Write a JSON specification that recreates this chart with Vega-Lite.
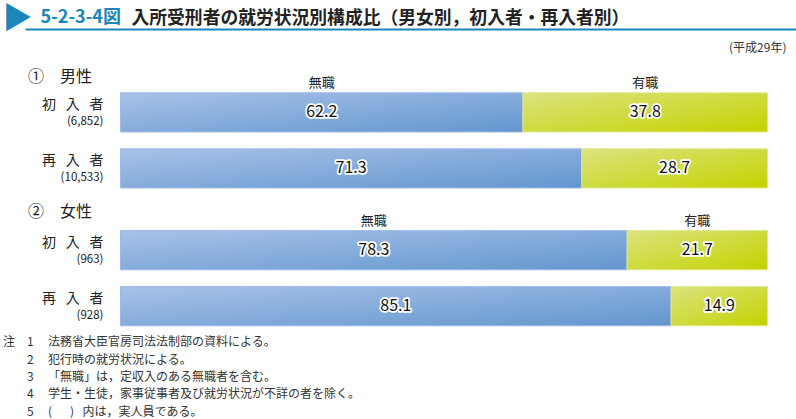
{
  "$schema": "https://vega.github.io/schema/vega-lite/v6.json",
  "padding": {"left": 2, "top": 3, "right": 0, "bottom": 0},
  "bounds": "flush",
  "spacing": 41.8,
  "config": {"font": "Noto Sans CJK JP", "view": {"stroke": null}, "background": "white"},
  "data": {"values": [
    {"sex": "男性", "type": "初入者", "n": "6,852", "status": "無職", "pct": 62.2},
    {"sex": "男性", "type": "初入者", "n": "6,852", "status": "有職", "pct": 37.8},
    {"sex": "男性", "type": "再入者", "n": "10,533", "status": "無職", "pct": 71.3},
    {"sex": "男性", "type": "再入者", "n": "10,533", "status": "有職", "pct": 28.7},
    {"sex": "女性", "type": "初入者", "n": "963", "status": "無職", "pct": 78.3},
    {"sex": "女性", "type": "初入者", "n": "963", "status": "有職", "pct": 21.7},
    {"sex": "女性", "type": "再入者", "n": "928", "status": "無職", "pct": 85.1},
    {"sex": "女性", "type": "再入者", "n": "928", "status": "有職", "pct": 14.9}
  ]},
  "title": {
    "text": ["注　1　\u2009法務省大臣官房司法法制部の資料による。", "\u200B　　2　\u2009犯行時の就労状況による。", "\u200B　　3　\u2009「無職」は，定収入のある無職者を含む。", "\u200B　　4　\u2009学生・生徒，家事従事者及び就労状況が不詳の者を除く。", "\u200B　　5　\u2009(　\u2002)\u2002\u2009内は，実人員である。"],
    "orient": "bottom", "anchor": "start", "frame": "group", "dx": -22, "offset": 11,
    "fontSize": 12, "fontWeight": "normal", "lineHeight": 17.4, "color": "#333"
  },
  "vconcat": [
    {
      "width": 771, "height": 21.5,
      "layer": [
        {
          "mark": {"type": "point", "opacity": 0},
          "encoding": {
            "x": {"field": "pct", "type": "quantitative", "scale": {"domain": [0, 100]},
              "axis": {"orient": "top", "grid": false, "domainColor": "#1a86b9", "domainWidth": 2, "ticks": false,
                "values": [100], "labelExpr": "'(平成29年)'", "labelAlign": "right", "labelOffset": -10, "labelPadding": -25,
                "labelBaseline": "bottom", "labelFontSize": 12, "labelColor": "#333", "labelBound": false, "labelFlush": false,
                "title": "入所受刑者の就労状況別構成比（男女別，初入者・再入者別）", "titleX": 106, "titleY": -6,
                "titleAlign": "left", "titleBaseline": "alphabetic", "titleFontSize": 17.8, "titleFontWeight": "bold", "titleColor": "#222"}},
            "y": {"field": "type", "type": "nominal",
              "axis": {"orient": "left", "domain": false, "ticks": false, "labels": false, "grid": false, "title": "▶", "titleAngle": 0,
                "titleX": -23, "titleY": -26, "titleAlign": "left", "titleBaseline": "top", "titleFontSize": 30,
                "titleColor": "#1a86b9", "titleFontWeight": "normal"}}
          }
        },
        {
          "mark": {"type": "point", "opacity": 0},
          "encoding": {
            "x": {"field": "pct", "type": "quantitative"},
            "y": {"field": "n", "type": "nominal",
              "axis": {"orient": "left", "domain": false, "ticks": false, "labels": false, "grid": false, "title": "5-2-3-4図", "titleAngle": 0,
                "titleX": 15, "titleY": -7, "titleAlign": "left", "titleBaseline": "alphabetic", "titleFontSize": 18,
                "titleColor": "#1a86b9", "titleFontWeight": "bold"}}
          }
        }
      ],
      "resolve": {"scale": {"y": "independent"}}
    },
    {
      "width": 771, "height": 95.2,
      "title": {"text": "①　男性", "anchor": "start", "frame": "group", "dx": 3, "offset": -8, "fontSize": 16, "fontWeight": "normal", "color": "#222"},
      "transform": [
        {"filter": "datum.sex === '男性'"},
        {"stack": "pct", "groupby": ["type"], "sort": [{"field": "status", "order": "descending"}], "as": ["x0", "x1"], "offset": "zero"},
        {"calculate": "(datum.x0 + datum.x1) / 2", "as": "xm"}
      ],
      "layer": [
        {"layer": [
          {"transform": [{"filter": "datum.status === '無職'"}],
           "mark": {"type": "bar", "fill": {"gradient": "linear", "x1": 0, "y1": 0, "x2": 1, "y2": 1, "stops": [{"offset": 0, "color": "#a8c2e9"}, {"offset": 1, "color": "#6396ce"}]}, "stroke": "#9dbbe6", "strokeWidth": 1},
           "encoding": {
             "x": {"field": "x0", "type": "quantitative", "scale": {"domain": [0, 100], "range": [95.5, 742.5], "nice": false}, "axis": null},
             "x2": {"field": "x1"},
             "y": {"field": "type", "type": "nominal", "sort": "descending", "scale": {"type": "band", "paddingInner": 0.3, "paddingOuter": 0},
               "axis": {"orient": "left", "offset": -83, "domain": false, "ticks": false, "labelPadding": 5, "labelExpr": "join(split(datum.label, ''), '\u2002\u2009')", "labelFontSize": 14, "labelColor": "#222", "labelBaseline": "middle", "labelOffset": -7, "title": null}}
           }},
          {"transform": [{"filter": "datum.status === '有職'"}],
           "mark": {"type": "bar", "fill": {"gradient": "linear", "x1": 0, "y1": 0, "x2": 1, "y2": 1, "stops": [{"offset": 0, "color": "#dbe37e"}, {"offset": 1, "color": "#c3d300"}]}, "stroke": "#e0e894", "strokeWidth": 1},
           "encoding": {
             "x": {"field": "x0", "type": "quantitative"},
             "x2": {"field": "x1"},
             "y": {"field": "type", "type": "nominal", "sort": "descending"}
           }},
          {"transform": [{"filter": "datum.type === '初入者'"}],
           "mark": {"type": "text", "baseline": "bottom", "dy": -3, "fontSize": 13, "color": "#222"},
           "encoding": {
             "x": {"field": "xm", "type": "quantitative"},
             "y": {"field": "type", "type": "nominal", "sort": "descending", "bandPosition": 0},
             "text": {"field": "status"}
           }}
        ]},
        {"layer": [
          {"mark": {"type": "text", "fontSize": 16, "fill": "white", "stroke": "white", "strokeWidth": 3.5, "strokeJoin": "round"},
           "encoding": {
             "x": {"field": "xm", "type": "quantitative"},
             "y": {"field": "n", "type": "nominal", "sort": ["6,852", "10,533"], "scale": {"type": "band", "paddingInner": 0.3, "paddingOuter": 0},
               "axis": {"orient": "left", "offset": -83, "domain": false, "ticks": false, "labelPadding": 5, "labelExpr": "'(' + datum.label + ')'", "labelFontSize": 11.5, "labelColor": "#222", "labelBaseline": "middle", "labelOffset": 9.5, "title": null}},
             "text": {"field": "pct", "type": "quantitative", "format": ".1f"}
           }},
          {"mark": {"type": "text", "fontSize": 16, "fill": "#111"},
           "encoding": {
             "x": {"field": "xm", "type": "quantitative"},
             "y": {"field": "n", "type": "nominal", "sort": ["6,852", "10,533"]},
             "text": {"field": "pct", "type": "quantitative", "format": ".1f"}
           }}
        ]}
      ],
      "resolve": {"scale": {"y": "independent"}}
    },
    {
      "width": 771, "height": 95.2,
      "title": {"text": "②　女性", "anchor": "start", "frame": "group", "dx": 3, "offset": -5, "fontSize": 16, "fontWeight": "normal", "color": "#222"},
      "transform": [
        {"filter": "datum.sex === '女性'"},
        {"stack": "pct", "groupby": ["type"], "sort": [{"field": "status", "order": "descending"}], "as": ["x0", "x1"], "offset": "zero"},
        {"calculate": "(datum.x0 + datum.x1) / 2", "as": "xm"}
      ],
      "layer": [
        {"layer": [
          {"transform": [{"filter": "datum.status === '無職'"}],
           "mark": {"type": "bar", "fill": {"gradient": "linear", "x1": 0, "y1": 0, "x2": 1, "y2": 1, "stops": [{"offset": 0, "color": "#a8c2e9"}, {"offset": 1, "color": "#6396ce"}]}, "stroke": "#9dbbe6", "strokeWidth": 1},
           "encoding": {
             "x": {"field": "x0", "type": "quantitative", "scale": {"domain": [0, 100], "range": [95.5, 742.5], "nice": false}, "axis": null},
             "x2": {"field": "x1"},
             "y": {"field": "type", "type": "nominal", "sort": "descending", "scale": {"type": "band", "paddingInner": 0.3, "paddingOuter": 0},
               "axis": {"orient": "left", "offset": -83, "domain": false, "ticks": false, "labelPadding": 5, "labelExpr": "join(split(datum.label, ''), '\u2002\u2009')", "labelFontSize": 14, "labelColor": "#222", "labelBaseline": "middle", "labelOffset": -7, "title": null}}
           }},
          {"transform": [{"filter": "datum.status === '有職'"}],
           "mark": {"type": "bar", "fill": {"gradient": "linear", "x1": 0, "y1": 0, "x2": 1, "y2": 1, "stops": [{"offset": 0, "color": "#dbe37e"}, {"offset": 1, "color": "#c3d300"}]}, "stroke": "#e0e894", "strokeWidth": 1},
           "encoding": {
             "x": {"field": "x0", "type": "quantitative"},
             "x2": {"field": "x1"},
             "y": {"field": "type", "type": "nominal", "sort": "descending"}
           }},
          {"transform": [{"filter": "datum.type === '初入者'"}],
           "mark": {"type": "text", "baseline": "bottom", "dy": -3, "fontSize": 13, "color": "#222"},
           "encoding": {
             "x": {"field": "xm", "type": "quantitative"},
             "y": {"field": "type", "type": "nominal", "sort": "descending", "bandPosition": 0},
             "text": {"field": "status"}
           }}
        ]},
        {"layer": [
          {"mark": {"type": "text", "fontSize": 16, "fill": "white", "stroke": "white", "strokeWidth": 3.5, "strokeJoin": "round"},
           "encoding": {
             "x": {"field": "xm", "type": "quantitative"},
             "y": {"field": "n", "type": "nominal", "sort": ["963", "928"], "scale": {"type": "band", "paddingInner": 0.3, "paddingOuter": 0},
               "axis": {"orient": "left", "offset": -83, "domain": false, "ticks": false, "labelPadding": 5, "labelExpr": "'(' + datum.label + ')'", "labelFontSize": 11.5, "labelColor": "#222", "labelBaseline": "middle", "labelOffset": 9.5, "title": null}},
             "text": {"field": "pct", "type": "quantitative", "format": ".1f"}
           }},
          {"mark": {"type": "text", "fontSize": 16, "fill": "#111"},
           "encoding": {
             "x": {"field": "xm", "type": "quantitative"},
             "y": {"field": "n", "type": "nominal", "sort": ["963", "928"]},
             "text": {"field": "pct", "type": "quantitative", "format": ".1f"}
           }}
        ]}
      ],
      "resolve": {"scale": {"y": "independent"}}
    }
  ]
}
